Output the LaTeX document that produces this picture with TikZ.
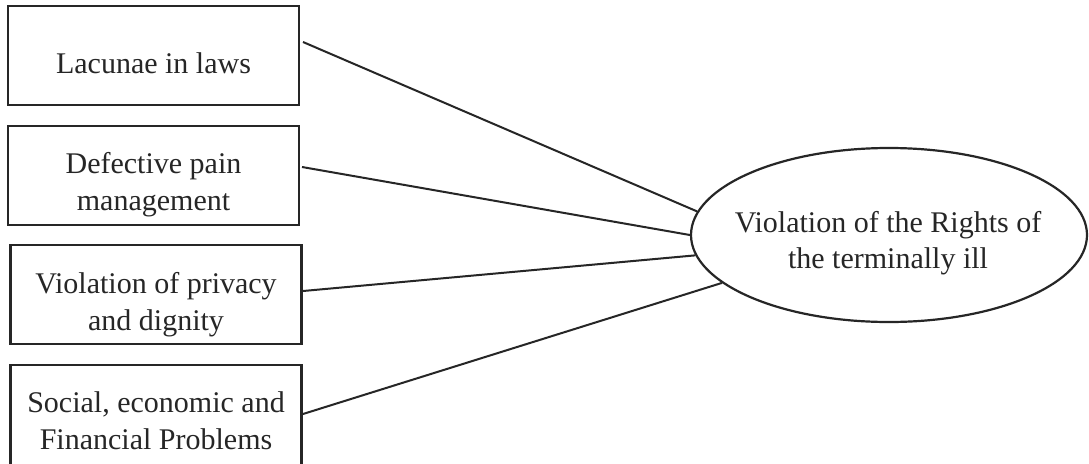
\documentclass[tikz,border=0pt]{standalone}
\usepackage{fontspec}
\setmainfont{Liberation Serif}
\usetikzlibrary{shapes.geometric}
\begin{document}
\begin{tikzpicture}[x=1pt,y=-1pt,
  box/.style={draw=black!85, line width=2.4pt, minimum width=291pt, minimum height=99pt, inner sep=0pt},
  lbl/.style={font=\fontsize{30}{36}\selectfont, text=black!85, anchor=base, inner sep=0pt},
  conn/.style={draw=black!85, line width=2pt}]
\clip (0,0) rectangle (1089,463);
\fill[white] (0,0) rectangle (1089,463);
% boxes
\node[box] (b1) at (153.5,55.5) {};
\node[box] (b2) at (153.5,175.5) {};
\node[box] (b3) at (156,294.5) {};
\node[box, minimum height=120pt] (b4) at (156,425) {};
% box texts
\node[lbl] (t1) at (153.5,73) {Lacunae in laws};
\node[lbl] (t2a) at (153.5,173) {Defective pain};
\node[lbl] (t2b) at (153.5,210) {management};
\node[lbl] (t3a) at (156,293) {Violation of privacy};
\node[lbl] (t3b) at (156,330) {and dignity};
\node[lbl] (t4a) at (156,412) {Social, economic and};
\node[lbl] (t4b) at (156,449) {Financial Problems};
% ellipse
\node[ellipse, draw=black!85, line width=2.2pt, minimum width=396pt, minimum height=174pt, inner sep=0pt] (ell) at (889,235) {};
\node[lbl] (e1) at (888,232) {Violation of the Rights of};
\node[lbl] (e2) at (888,268) {the terminally ill};
% connectors
\coordinate (s1) at (303,42);
\coordinate (s2) at (302,167);
\coordinate (s3) at (303,291);
\coordinate (s4) at (303,414);
\draw[conn] (s1) -- (ell.173.3);
\draw[conn] (s2) -- (ell.180);
\draw[conn] (s3) -- (ell.186.8);
\draw[conn] (s4) -- (ell.196.9);
\end{tikzpicture}
\end{document}
